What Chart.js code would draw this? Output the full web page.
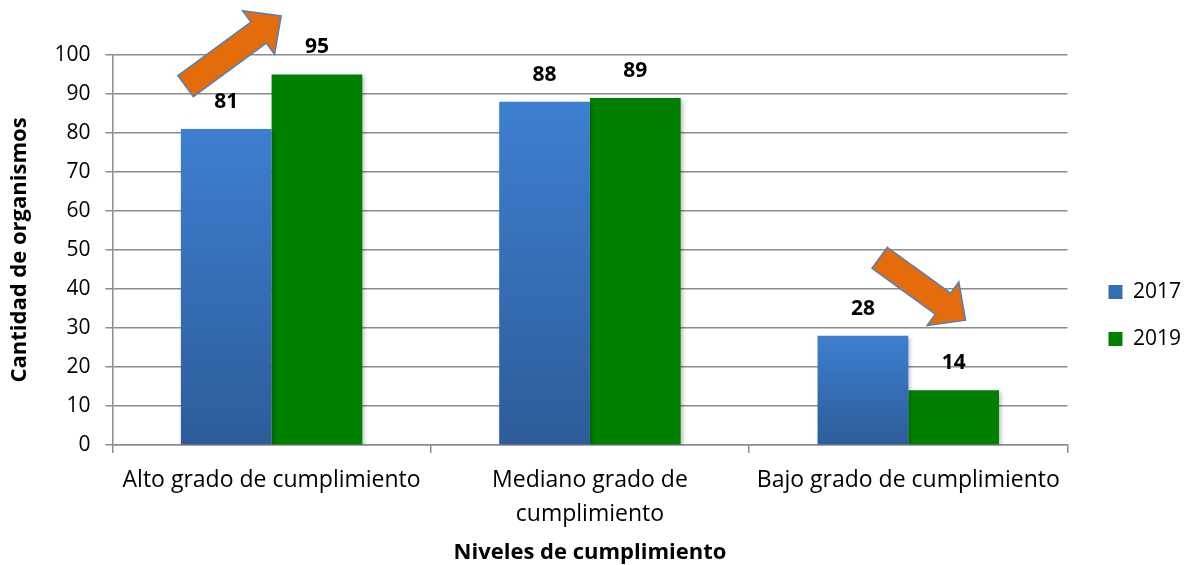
<!DOCTYPE html>
<html>
<head>
<meta charset="utf-8">
<script src="https://cdn.jsdelivr.net/npm/chart.js@4"></script>
<style>
  html, body { margin: 0; padding: 0; background: #fff; }
  #wrap { width: 1187px; height: 565px; }
</style>
</head>
<body>
<div id="wrap"><canvas id="NivelesChart"></canvas></div>
<script>
const categories = [
    'Alto grado de cumplimiento',
    ['Mediano grado de', 'cumplimiento'],
    'Bajo grado de cumplimiento'
];
const values2017 = [81, 88, 28];
const values2019 = [95, 89, 14];
const seriesNames = ['2017', '2019'];

// arrows: [category offset, value] for tail and tip
const arrows = [
    { from: [-0.27, 92], to: [0.03, 110] },
    { from: [1.91, 48], to: [2.18, 32] }
];

const FONT = '"Open Sans", "Noto Sans", sans-serif';
const GRID = '#8c8c8c';

document.addEventListener('DOMContentLoaded', function() {
    const ctx = document.getElementById('NivelesChart').getContext('2d');

    // blue bars get a vertical gradient like the original
    function blueFill(c) {
        const chart = c.chart;
        const area = chart.chartArea;
        if (c.dataIndex === undefined || !area || !chart.scales.y) return '#3a75c0';
        const top = chart.scales.y.getPixelForValue(values2017[c.dataIndex]);
        const g = chart.ctx.createLinearGradient(0, top, 0, area.bottom);
        g.addColorStop(0, '#3d7fd0');
        g.addColorStop(1, '#2d5c99');
        return g;
    }

    // soft shadow under the bars
    const barShadow = {
        id: 'barShadow',
        beforeDatasetsDraw(chart) {
            const c = chart.ctx;
            c.save();
            c.shadowColor = 'rgba(0,0,0,0.25)';
            c.shadowBlur = 4;
            c.shadowOffsetX = 2;
            c.shadowOffsetY = 2;
        },
        afterDatasetsDraw(chart) {
            chart.ctx.restore();
        }
    };

    const valueLabels = {
        id: 'valueLabels',
        afterDatasetsDraw(chart) {
            const c = chart.ctx;
            c.save();
            c.font = 'bold 21px ' + FONT;
            c.fillStyle = '#000';
            c.textAlign = 'center';
            c.textBaseline = 'middle';
            chart.data.datasets.forEach((ds, i) => {
                chart.getDatasetMeta(i).data.forEach((bar, j) => {
                    c.fillText(ds.data[j], bar.x, bar.y - 27);
                });
            });
            c.restore();
        }
    };

    const arrowShapes = {
        id: 'arrowShapes',
        afterDraw(chart) {
            const xs = chart.scales.x, ys = chart.scales.y;
            const step = xs.getPixelForValue(1) - xs.getPixelForValue(0);
            const c = chart.ctx;
            arrows.forEach(a => {
                const x1 = xs.getPixelForValue(0) + a.from[0] * step;
                const y1 = ys.getPixelForValue(a.from[1]);
                const x2 = xs.getPixelForValue(0) + a.to[0] * step;
                const y2 = ys.getPixelForValue(a.to[1]);
                const len = Math.hypot(x2 - x1, y2 - y1);
                const shaft = 13, head = 27, headLen = 28;
                c.save();
                c.translate(x1, y1);
                c.rotate(Math.atan2(y2 - y1, x2 - x1));
                c.beginPath();
                c.moveTo(0, -shaft);
                c.lineTo(len - headLen, -shaft);
                c.lineTo(len - headLen, -head);
                c.lineTo(len, 0);
                c.lineTo(len - headLen, head);
                c.lineTo(len - headLen, shaft);
                c.lineTo(0, shaft);
                c.closePath();
                c.fillStyle = '#e46c0a';
                c.fill();
                c.lineWidth = 1.5;
                c.strokeStyle = '#4f81bd';
                c.stroke();
                c.restore();
            });
        }
    };

    new Chart(ctx, {
        type: 'bar',
        data: {
            labels: categories,
            datasets: [{
                label: seriesNames[0],
                data: values2017,
                backgroundColor: blueFill
            }, {
                label: seriesNames[1],
                data: values2019,
                backgroundColor: '#008000'
            }]
        },
        options: {
            responsive: true,
            maintainAspectRatio: false,
            animation: false,
            barPercentage: 1,
            categoryPercentage: 0.57,
            layout: { padding: { top: 55, right: -4, bottom: 0, left: 7 } },
            plugins: {
                tooltip: { enabled: false },
                legend: {
                    position: 'right',
                    title: {
                        display: true,
                        text: '',
                        font: { size: 1 },
                        padding: { top: 10, bottom: 0 }
                    },
                    labels: {
                        font: { family: FONT, size: 21 },
                        color: '#000',
                        boxWidth: 14,
                        boxHeight: 14,
                        padding: 26
                    }
                }
            },
            scales: {
                x: {
                    grid: {
                        offset: true,
                        drawOnChartArea: false,
                        color: GRID,
                        lineWidth: 1.5,
                        tickLength: 8
                    },
                    border: { color: GRID, width: 1.5 },
                    ticks: {
                        font: { family: FONT, size: 23, lineHeight: 1.48 },
                        color: '#000',
                        maxRotation: 0,
                        padding: 10
                    },
                    title: {
                        display: true,
                        text: 'Niveles de cumplimiento',
                        font: { family: FONT, size: 22, weight: 'bold', lineHeight: 1.09 },
                        color: '#000',
                        padding: { top: 0, bottom: 0 }
                    }
                },
                y: {
                    min: 0,
                    max: 100,
                    ticks: {
                        stepSize: 10,
                        font: { family: FONT, size: 21 },
                        color: '#000',
                        padding: 15
                    },
                    grid: { color: GRID, lineWidth: 1.5, tickLength: 7 },
                    border: { color: GRID, width: 1.5 },
                    title: {
                        display: true,
                        text: 'Cantidad de organismos',
                        font: { family: FONT, size: 22, weight: 'bold' },
                        color: '#000',
                        padding: { top: 0, bottom: 6 }
                    }
                },
                // empty spacer between plot and legend
                gap: {
                    position: 'right',
                    grid: { display: false },
                    border: { display: false },
                    ticks: { display: false },
                    afterFit(scale) { scale.width = 15; }
                }
            }
        },
        plugins: [barShadow, valueLabels, arrowShapes]
    });
});
</script>
</body>
</html>
